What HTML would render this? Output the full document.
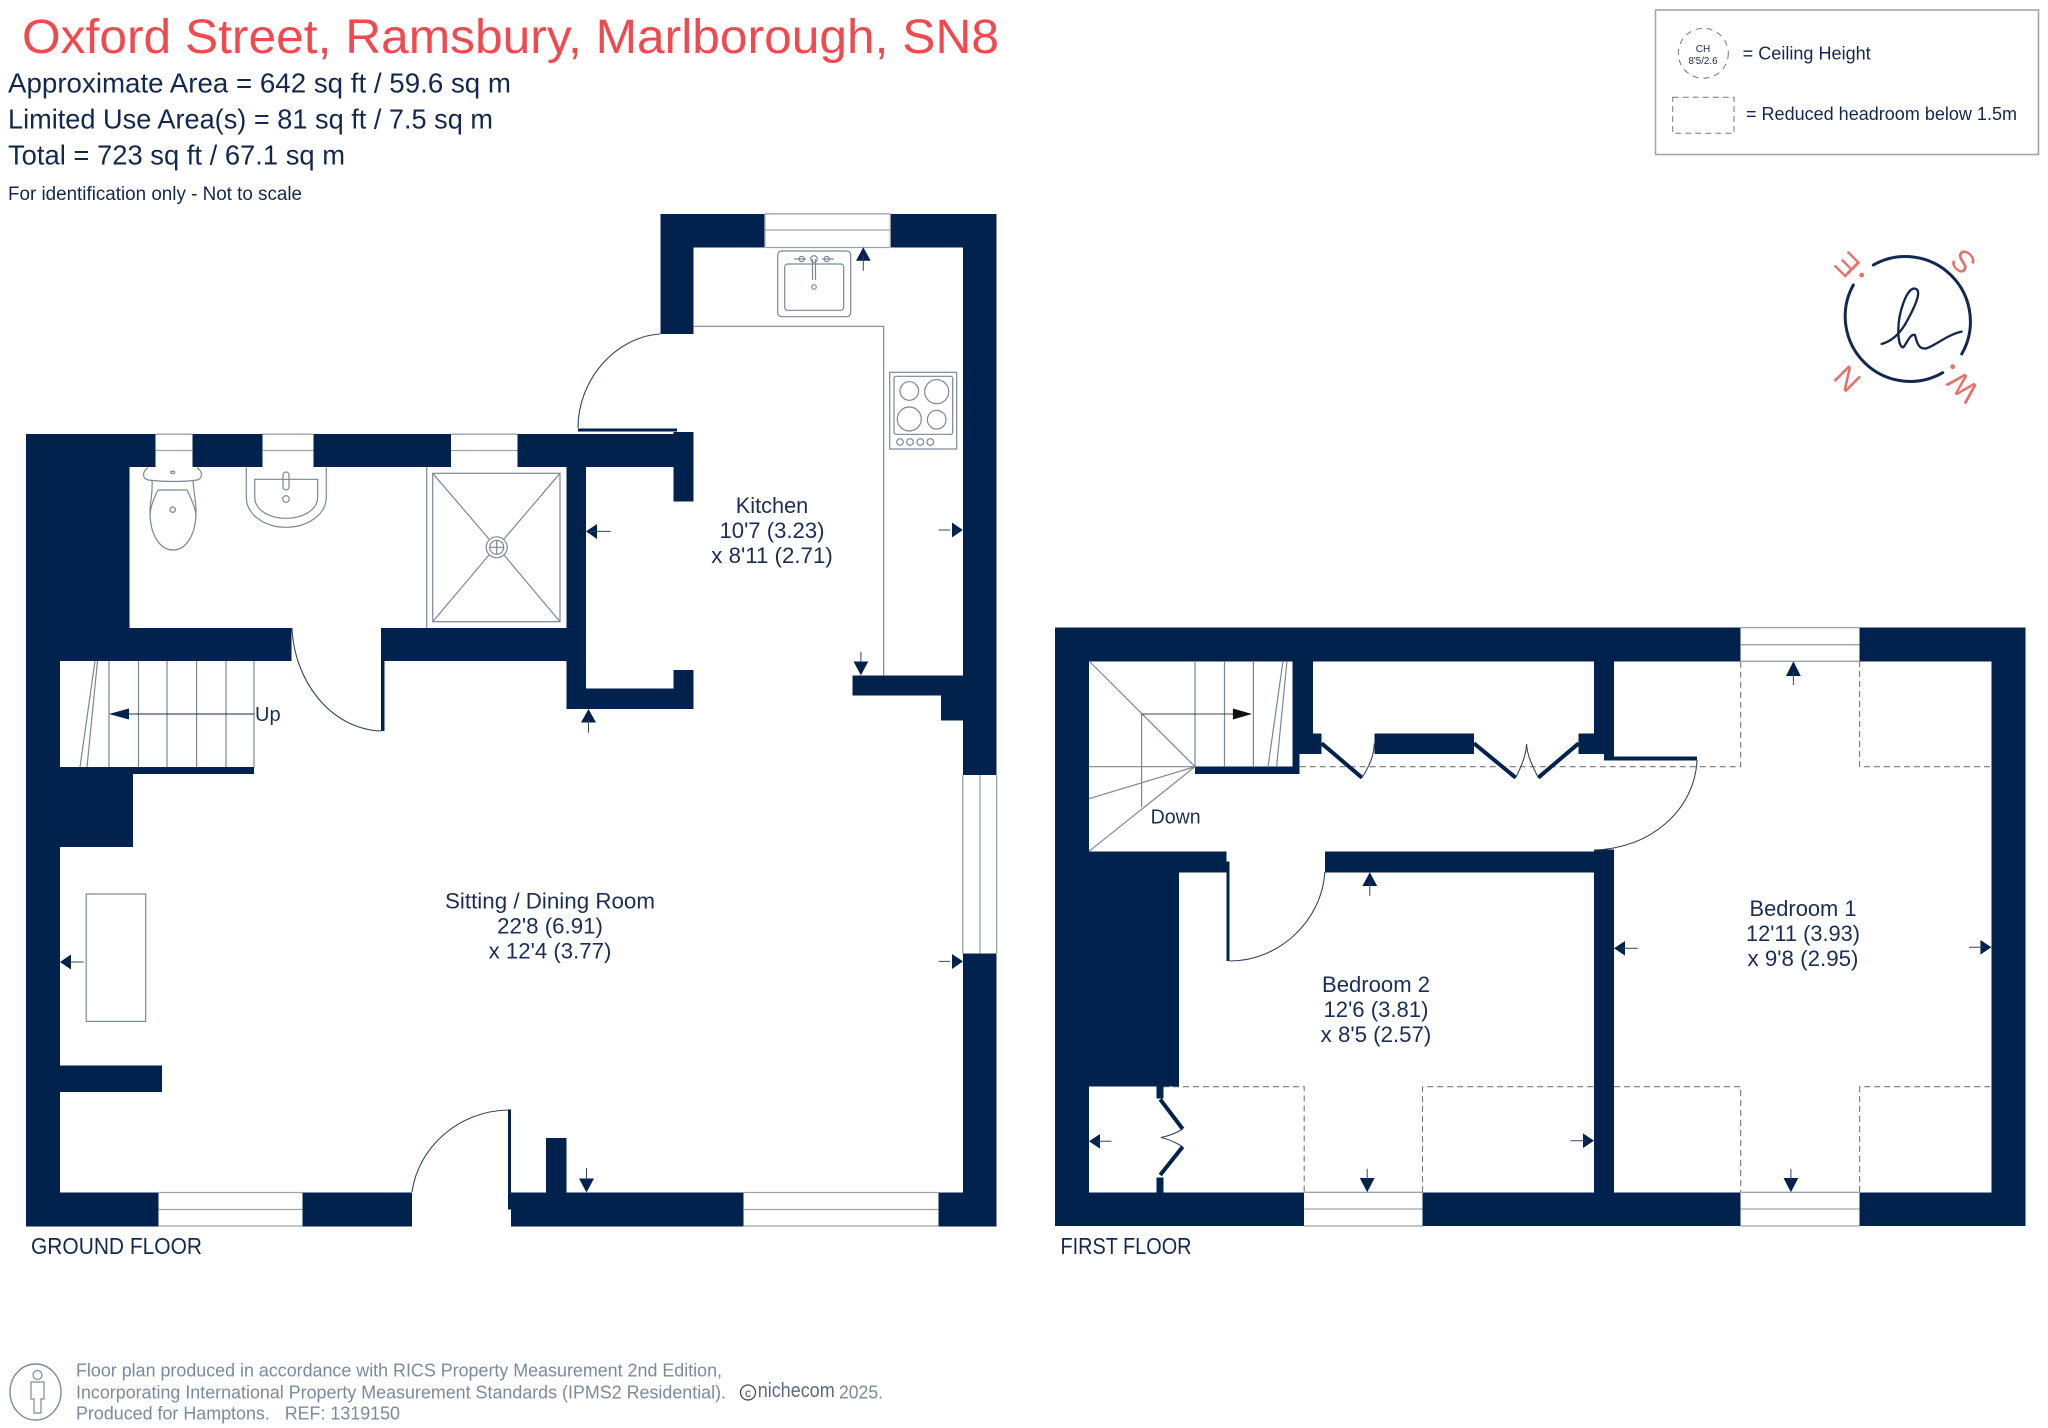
<!DOCTYPE html>
<html><head><meta charset="utf-8"><title>Oxford Street floor plan</title>
<style>html,body{margin:0;padding:0;background:#fff}svg{display:block}text{font-family:"Liberation Sans",sans-serif}</style></head>
<body>
<svg xmlns="http://www.w3.org/2000/svg" width="2048" height="1428" viewBox="0 0 2048 1428">
<rect width="2048" height="1428" fill="#fff"/>
<!-- header -->
<text x="22" y="53" font-size="48" fill="#ef4a4f" textLength="977" lengthAdjust="spacingAndGlyphs">Oxford Street, Ramsbury, Marlborough, SN8</text>
<g fill="#13284f">
<text x="8" y="92.5" font-size="28" textLength="503" lengthAdjust="spacingAndGlyphs">Approximate Area = 642 sq ft / 59.6 sq m</text>
<text x="8" y="128.5" font-size="28" textLength="485" lengthAdjust="spacingAndGlyphs">Limited Use Area(s) = 81 sq ft / 7.5 sq m</text>
<text x="8" y="164.5" font-size="28" textLength="337" lengthAdjust="spacingAndGlyphs">Total = 723 sq ft / 67.1 sq m</text>
<text x="8" y="200" font-size="19" textLength="294" lengthAdjust="spacingAndGlyphs">For identification only - Not to scale</text>
</g>
<!-- legend -->
<rect x="1655.5" y="10" width="383" height="144.5" fill="none" stroke="#a5a5a5" stroke-width="1.6"/>
<circle cx="1703.3" cy="53.3" r="25" fill="none" stroke="#777" stroke-width="1" stroke-dasharray="6 5"/>
<g fill="#13284f" text-anchor="middle">
<text x="1703" y="52" font-size="10">CH</text>
<text x="1703" y="64" font-size="10" textLength="29" lengthAdjust="spacingAndGlyphs">8'5/2.6</text>
</g>
<text x="1742.7" y="59.3" font-size="18" fill="#13284f" textLength="128" lengthAdjust="spacingAndGlyphs">= Ceiling Height</text>
<rect x="1672.7" y="97.3" width="61.3" height="36" fill="none" stroke="#777" stroke-width="1" stroke-dasharray="6 4"/>
<text x="1746" y="120" font-size="18" fill="#13284f" textLength="271" lengthAdjust="spacingAndGlyphs">= Reduced headroom below 1.5m</text>
<!-- compass -->
<g fill="none" stroke="#13284f" stroke-width="3" stroke-linecap="round">
<path d="M1873.3 265 A65 65 0 0 1 1961.7 354"/>
<path d="M1942.7 372.7 A65 65 0 0 1 1853.3 285"/>
<path transform="translate(1640 0) scale(.3333)" stroke-width="7" d="M725 1032 C750 1025 778 1005 800 965 C825 920 848 870 825 866 C800 862 775 940 775 990 C775 1020 780 1042 790 1042 C800 1032 810 1000 825 1005 C830 1025 835 1050 860 1045 C890 1035 920 1005 965 995"/>
</g>
<g fill="#e8706a" font-size="31" text-anchor="middle">
<text transform="translate(1847 265) rotate(225)" y="11">E</text>
<text transform="translate(1963 262) rotate(225)" y="11">S</text>
<text transform="translate(1847 379) rotate(225)" y="11">N</text>
<text transform="translate(1963 387) rotate(225)" y="11">W</text>
<circle cx="1861.7" cy="275" r="2.4"/><circle cx="1952.7" cy="366.7" r="2.4"/>
</g>
<!-- reduced headroom dashes -->
<path fill="none" stroke="#777" stroke-width="1.1" stroke-dasharray="6 4" d="M1299.7 766.7H1740.7V661M1859.6 661V766.7H1991.4M1163 1086.7H1304.2V1192M1422.5 1192V1086.7H1594M1614 1086.7H1740.7V1192M1859.6 1192V1086.7H1991.4"/>
<!-- walls -->
<g fill="#01224d" shape-rendering="crispEdges">
<!-- ground -->
<rect x="26" y="434.2" width="129.6" height="33"/>
<rect x="192.7" y="434.2" width="69.7" height="33"/>
<rect x="313.6" y="434.2" width="137.4" height="33"/>
<rect x="517.5" y="434.2" width="176.2" height="33"/>
<rect x="26" y="434.2" width="103.3" height="227"/>
<rect x="26" y="627.9" width="265.5" height="33.3"/>
<rect x="384.7" y="627.9" width="201.2" height="33.3"/>
<rect x="566.3" y="467" width="19.6" height="242"/>
<rect x="566.3" y="688.7" width="127.4" height="20.3"/>
<rect x="673.4" y="670" width="20.3" height="39"/>
<rect x="673.4" y="432" width="20.3" height="69.6"/>
<rect x="578" y="428.5" width="99" height="3"/>
<rect x="26" y="661" width="34" height="565.4"/>
<rect x="60" y="767.2" width="194" height="6.8"/>
<rect x="60" y="767" width="73" height="80"/>
<rect x="60" y="1065.4" width="102" height="26.6"/>
<rect x="26" y="1192.5" width="132.7" height="33.9"/>
<rect x="302.4" y="1192.5" width="109.6" height="33.9"/>
<rect x="510.8" y="1192.5" width="232.5" height="33.9"/>
<rect x="938.6" y="1192.5" width="58.1" height="33.9"/>
<rect x="546" y="1138" width="20.3" height="55"/>
<rect x="962.8" y="213.8" width="33.9" height="561.2"/>
<rect x="962.8" y="953.6" width="33.9" height="272.8"/>
<rect x="852.4" y="675.3" width="110.4" height="20.3"/>
<rect x="941.2" y="695" width="21.6" height="25.5"/>
<rect x="660.3" y="213.8" width="33.4" height="120.2"/>
<rect x="660.3" y="213.8" width="104.6" height="33.7"/>
<rect x="890.3" y="213.8" width="106.4" height="33.7"/>
<rect x="381" y="628" width="3.7" height="103.2"/>
<rect x="508" y="1109.6" width="3" height="100"/>
<!-- first -->
<rect x="1054.8" y="627.3" width="685.9" height="34"/>
<rect x="1859.6" y="627.3" width="165.9" height="34"/>
<rect x="1054.8" y="627.3" width="34.1" height="598.7"/>
<rect x="1991.4" y="627.3" width="34.1" height="598.7"/>
<rect x="1054.8" y="1192.3" width="249.4" height="33.7"/>
<rect x="1422.5" y="1192.3" width="318.2" height="33.7"/>
<rect x="1859.6" y="1192.3" width="165.9" height="33.7"/>
<rect x="1594.1" y="661" width="19.9" height="93"/>
<rect x="1578.7" y="733.7" width="35.3" height="20.3"/>
<rect x="1603.8" y="750" width="10.2" height="7"/>
<rect x="1603.8" y="756.7" width="93.2" height="4"/>
<rect x="1594.1" y="849.5" width="19.9" height="343"/>
<rect x="1292.6" y="661" width="20.6" height="72.7"/>
<rect x="1292.6" y="733.7" width="29" height="20.3"/>
<rect x="1292.6" y="754" width="7.1" height="20"/>
<rect x="1195" y="766.7" width="104.7" height="7.3"/>
<rect x="1374.3" y="733.7" width="99.6" height="20.3"/>
<rect x="1054.8" y="851.3" width="171.6" height="21"/>
<rect x="1054.8" y="851.3" width="124.1" height="235.4"/>
<rect x="1324.8" y="851.3" width="289.2" height="21"/>
<rect x="1226.4" y="861.7" width="3.2" height="99.3"/>
<rect x="1156.4" y="1086.7" width="7" height="11.6"/>
<rect x="1156.4" y="1177.3" width="7" height="15"/>
</g>
<g fill="none" stroke="#01224d" stroke-width="4">
<path d="M1321.6 743.3L1362 777.7M1473.9 743.3L1515.7 777.7M1578.7 743.3L1538.2 777.7M1160.2 1099.3L1182.7 1129M1182.7 1146.7L1160.2 1175"/>
</g>
<!-- windows -->
<path fill="none" stroke="#9aa3ad" stroke-width="1.3" d="M155.6 434.2H192.7M155.6 450.5H192.7M262.4 434.2H313.6M262.4 450.5H313.6M451 434.2H517.5M451 450.5H517.5
M764.9 213.8H890.3M764.9 230H890.3M764.9 247.5H890.3M764.9 213.8V247.5M890.3 213.8V247.5
M158.7 1192.5H302.4M158.7 1209.5H302.4M158.7 1226H302.4M743.3 1192.5H938.6M743.3 1209.5H938.6M743.3 1226H938.6
M962.8 775V953.6M980 775V953.6M996.7 775V953.6
M1740.7 627.6H1859.6M1740.7 644.7H1859.6M1740.7 661.3H1859.6
M1304.2 1192.3H1422.5M1304.2 1209H1422.5M1304.2 1226H1422.5M1740.7 1192.3H1859.6M1740.7 1209H1859.6M1740.7 1226H1859.6"/>
<!-- door arcs & thin lines -->
<g fill="none" stroke="#33455f" stroke-width="1.1">
<path d="M660 334C615 337 578 380 578 428"/>
<path d="M292 628C294 680 330 729 381 731"/>
<path d="M412 1192C418 1148 458 1111 508 1110"/>
<path d="M1697 760C1695 810 1650 849 1594 850"/>
<path d="M1324.8 872C1322 920 1280 961 1229.6 961"/>
<path d="M1362 777.7C1370 765 1374 755 1374.3 743.3"/>
<path d="M1515.7 777.7C1522 765 1526 755 1526.6 744C1527 755 1532 765 1538.2 777.7"/>
<path d="M1182.7 1129C1175 1134 1168 1136 1161 1137.5C1168 1139 1175 1142 1182.7 1146.7"/>
</g>
<!-- fixtures -->
<g fill="none" stroke="#7b8696" stroke-width="1.2">
<path d="M693.7 326.3H883.7V675.3"/>
<rect x="86.2" y="894" width="59.5" height="127.4"/>
<!-- stairs ground -->
<path d="M109 661V767M138.5 661V767M167 661V767M196.6 661V767M226 661V767M254 661V767M95 661L80 767M97.5 661L87 767"/>
<!-- stairs first -->
<path d="M1195 661V767M1224.5 661V767M1253.4 661V767M1283 661L1268 767M1287 661L1276.6 767M1089 661L1195 766.7M1089 766.7H1195M1089 798.7L1195 766.7M1089 851.3L1195 766.7M1141.6 714V807"/>
<!-- shower -->
<path d="M426.7 467V628"/>
<rect x="432.7" y="473.3" width="127.3" height="148.4"/>
<path d="M432.7 473.3L489 539M560 473.3L504 539M432.7 621.7L489 555M560 621.7L504 555"/>
<circle cx="496.7" cy="547.3" r="10.5"/><circle cx="496.7" cy="547.3" r="7"/>
<path d="M490 547.3H503.5M496.7 540.5V554"/>
<!-- toilet -->
<path d="M148 467.7C142 472 142 478 148 480C165 482 185 482 197 480C203 478 203 472 197 467.7"/>
<path d="M152 480C153 495 150 500 150 512C150 535 160 550 173 550C186 550 196 535 196 512C196 500 194 495 193 480"/>
<path d="M158 490H187C192 500 196 510 196 516M158 490C153 500 150 510 150 516"/>
<circle cx="172.7" cy="509.7" r="2.7"/><ellipse cx="172.7" cy="472.3" rx="2" ry="1.2"/>
<!-- basin -->
<path d="M246.3 467.5V497C246.3 515 265 527.3 286 527.3C307 527.3 326.3 515 326.3 497V467.5"/>
<path d="M254.7 479.3H317.7V497C317.7 510 303 518.3 286 518.3C269 518.3 254.7 510 254.7 497Z"/>
<rect x="283" y="472" width="6" height="18" rx="3"/><circle cx="286" cy="499" r="3.3"/>
<!-- kitchen sink -->
<rect x="777.7" y="251" width="73" height="65.7" rx="4"/>
<rect x="784.7" y="264" width="59" height="46.3" rx="3"/>
<circle cx="814" cy="259" r="3.3"/><circle cx="801.7" cy="259" r="2.6"/><circle cx="826.7" cy="259" r="2.6"/>
<path d="M794 259H806M822 259H834"/>
<path d="M812.5 259V280M815.5 259V280"/><circle cx="814" cy="287" r="2.3"/>
<!-- hob -->
<rect x="889.7" y="372.3" width="67" height="76.7"/>
<rect x="894" y="376.3" width="58.7" height="58" rx="2"/>
<circle cx="909.3" cy="391" r="9.3"/><circle cx="936.7" cy="391.7" r="12"/>
<circle cx="909.3" cy="419" r="12"/><circle cx="936.7" cy="419.7" r="9.3"/>
<circle cx="900" cy="442" r="3.3"/><circle cx="910" cy="442" r="3.3"/><circle cx="920.3" cy="442" r="3.3"/><circle cx="930.3" cy="442" r="3.3"/>
</g>
<!-- stair arrows -->
<g stroke="#13284f" stroke-width="1.1" fill="#13284f">
<path d="M254 714H125"/><path stroke="none" fill="#01224d" d="M109 714L129 708.5V719.5Z"/>
</g>
<g stroke="#444" stroke-width="1.1"><path d="M1141.6 714H1235"/><path stroke="none" fill="#111" d="M1252 714L1232.9 708.5V719.5Z"/></g>
<!-- measure arrows -->
<g fill="#01224d" stroke="none">
<path d="M863.3 247.3L856 260.7H870.7Z"/>
<path d="M586 531.4L597 524V539Z"/>
<path d="M962.8 530L952 522.5V537.5Z"/>
<path d="M860.9 675.3L853.5 661.5H868.3Z"/>
<path d="M588.5 709L581 722.5H596Z"/>
<path d="M60 962L71 954.5V969.5Z"/>
<path d="M963 961.4L952 954V969Z"/>
<path d="M586.5 1192.5L579 1178.5H594Z"/>
<path d="M1793.4 661.3L1786 676H1800.8Z"/>
<path d="M1369.8 872.3L1362.4 886H1377.2Z"/>
<path d="M1614 948.3L1625 941V955.6Z"/>
<path d="M1991.4 947.3L1980.4 940V954.6Z"/>
<path d="M1089 1141.3L1100 1134V1148.6Z"/>
<path d="M1594 1140.7L1583 1133.4V1148Z"/>
<path d="M1367.2 1192.3L1359.8 1178H1374.6Z"/>
<path d="M1790.9 1192.3L1783.5 1178H1798.3Z"/>
</g>
<g stroke="#33455f" stroke-width="1" fill="none">
<path d="M863.3 255V270.7M590 531.4H610.7M950 530H938.6M860.9 662V651.6M588.5 720V732.7M70 962H83.6M950 961.4H938.6M586.5 1180V1168M1793.4 672V685M1369.8 882V895.7M1622 948.3H1637.8M1983 947.3H1969M1097 1141.3H1111.4M1586 1140.7H1570.3M1367.2 1180V1168.7M1790.9 1180V1168.7"/>
</g>
<!-- room labels -->
<g fill="#1a2d52" font-size="22" text-anchor="middle">
<text x="772" y="513" textLength="72.5" lengthAdjust="spacingAndGlyphs">Kitchen</text>
<text x="772" y="538" textLength="105" lengthAdjust="spacingAndGlyphs">10'7 (3.23)</text>
<text x="772" y="563" textLength="121.5" lengthAdjust="spacingAndGlyphs">x 8'11 (2.71)</text>
<text x="550" y="908.5" textLength="210" lengthAdjust="spacingAndGlyphs">Sitting / Dining Room</text>
<text x="550" y="933.5" textLength="105.8" lengthAdjust="spacingAndGlyphs">22'8 (6.91)</text>
<text x="550" y="958.5" textLength="122.8" lengthAdjust="spacingAndGlyphs">x 12'4 (3.77)</text>
<text x="1803" y="916" textLength="107" lengthAdjust="spacingAndGlyphs">Bedroom 1</text>
<text x="1803" y="941" textLength="114" lengthAdjust="spacingAndGlyphs">12'11 (3.93)</text>
<text x="1803" y="966" textLength="111" lengthAdjust="spacingAndGlyphs">x 9'8 (2.95)</text>
<text x="1376" y="992" textLength="108" lengthAdjust="spacingAndGlyphs">Bedroom 2</text>
<text x="1376" y="1017" textLength="105" lengthAdjust="spacingAndGlyphs">12'6 (3.81)</text>
<text x="1376" y="1042" textLength="110.6" lengthAdjust="spacingAndGlyphs">x 8'5 (2.57)</text>
</g>
<g fill="#1a2d52" font-size="20">
<text x="255" y="721">Up</text>
<text x="1150.6" y="823.5" textLength="50" lengthAdjust="spacingAndGlyphs">Down</text>
</g>
<g fill="#13284f" font-size="23">
<text x="31" y="1254" textLength="171" lengthAdjust="spacingAndGlyphs">GROUND FLOOR</text>
<text x="1060.5" y="1254" textLength="131" lengthAdjust="spacingAndGlyphs">FIRST FLOOR</text>
</g>
<!-- footer -->
<ellipse cx="35.5" cy="1392" rx="25.5" ry="28" fill="none" stroke="#7a8a9c" stroke-width="1.4"/>
<g fill="none" stroke="#7a8a9c" stroke-width="1.2">
<circle cx="37.5" cy="1375" r="4.5"/>
<path d="M31 1382H44V1399H41V1413H34V1399H31Z"/>
</g>
<g fill="#7a8a9c" font-size="18">
<text x="76" y="1376.7" textLength="646" lengthAdjust="spacingAndGlyphs">Floor plan produced in accordance with RICS Property Measurement 2nd Edition,</text>
<text x="76" y="1398.3" textLength="650" lengthAdjust="spacingAndGlyphs">Incorporating International Property Measurement Standards (IPMS2 Residential).</text>
<text x="76" y="1419.3" textLength="324" xml:space="preserve" lengthAdjust="spacingAndGlyphs">Produced for Hamptons.   REF: 1319150</text>
<text x="839" y="1398.3" textLength="44" lengthAdjust="spacingAndGlyphs">2025.</text>
</g>
<circle cx="748" cy="1392.5" r="7.5" fill="none" stroke="#3b4a62" stroke-width="1.3"/>
<text x="748" y="1397" font-size="12" fill="#3b4a62" text-anchor="middle">c</text>
<text x="757.7" y="1397" font-size="20" fill="#5a6a80" textLength="77" lengthAdjust="spacingAndGlyphs">nichecom</text>
</svg>
</body></html>
